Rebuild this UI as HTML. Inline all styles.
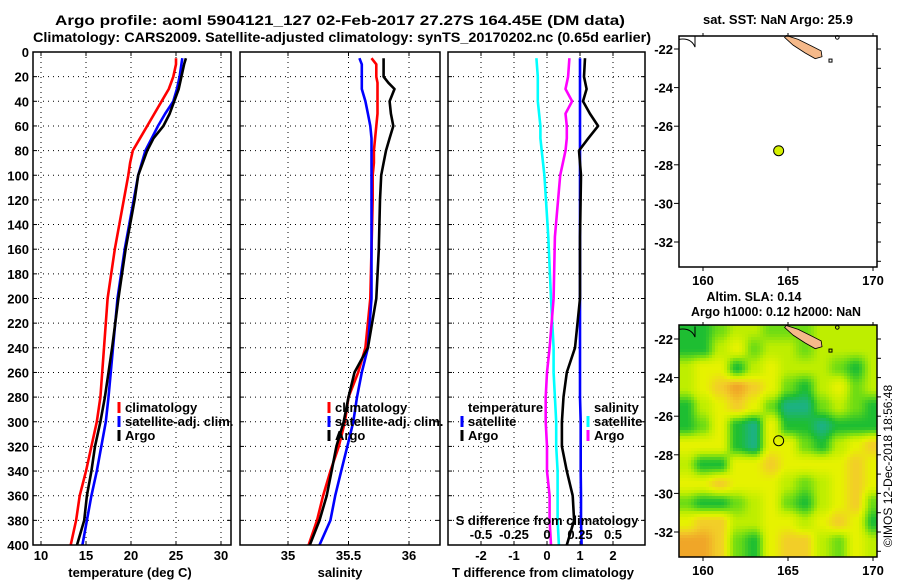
<!DOCTYPE html>
<html><head><meta charset="utf-8">
<style>
html,body{margin:0;padding:0;background:#fff;}
svg text{font-family:"Liberation Sans",sans-serif;font-weight:bold;font-size:13px;fill:#000;}
</style></head>
<body>
<svg id="c" width="900" height="580" viewBox="0 0 900 580" xmlns="http://www.w3.org/2000/svg">
<defs>
<clipPath id="clipMap2"><rect x="679" y="325" width="198" height="232"/></clipPath>
</defs>
<text x="340" y="25" text-anchor="middle" textLength="570" lengthAdjust="spacingAndGlyphs" style="font-size:14px">Argo profile: aoml 5904121_127 02-Feb-2017 27.27S 164.45E (DM data)</text>
<text x="342" y="42" text-anchor="middle" textLength="618" lengthAdjust="spacingAndGlyphs" style="font-size:14px">Climatology: CARS2009. Satellite-adjusted climatology: synTS_20170202.nc (0.65d earlier)</text>
<text x="778" y="24" text-anchor="middle" textLength="150" lengthAdjust="spacingAndGlyphs">sat. SST: NaN Argo: 25.9</text>
<text x="754" y="301" text-anchor="middle" textLength="95" lengthAdjust="spacingAndGlyphs">Altim. SLA: 0.14</text>
<text x="776" y="316" text-anchor="middle" textLength="170" lengthAdjust="spacingAndGlyphs">Argo h1000: 0.12 h2000: NaN</text>
<text transform="translate(892,466) rotate(-90)" text-anchor="middle" style="font-weight:normal;font-size:12px">©IMOS 12-Dec-2018 18:56:48</text>
<g id="g"></g>
</svg>
<script>
// ---- data: depth profiles ----
const tempDepths = [5,10,20,30,40,50,60,70,80,90,100,120,160,200,240,280,300,320,340,360,380,400];
const tempClim   = [25.0,25.0,24.7,24.2,23.4,22.6,21.8,21.0,20.2,19.9,19.7,19.2,18.2,17.4,17.0,16.6,16.2,15.6,15.0,14.3,13.9,13.3];
const tempSat    = [25.7,25.6,25.4,25.1,24.7,23.8,23.0,22.3,21.6,21.2,20.8,20.3,19.3,18.5,18.0,17.5,17.2,16.7,16.2,15.6,15.1,14.6];
const tempArgo   = [26.1,25.9,25.6,25.3,24.8,24.3,23.6,22.5,21.8,21.3,20.8,20.4,19.4,18.6,17.9,17.1,16.6,16.0,15.6,15.1,14.8,14.0];
const salDepths  = [5,10,20,25,30,40,50,60,70,80,90,100,120,160,200,240,260,280,300,320,340,360,380,400];
const salClim    = [35.69,35.73,35.73,35.74,35.74,35.74,35.74,35.73,35.72,35.71,35.71,35.70,35.70,35.69,35.68,35.64,35.58,35.50,35.47,35.42,35.35,35.29,35.24,35.17];
const salSat     = [35.59,35.61,35.61,35.61,35.61,35.64,35.66,35.68,35.69,35.69,35.69,35.69,35.69,35.69,35.69,35.66,35.61,35.57,35.54,35.49,35.44,35.39,35.35,35.26];
const salArgo    = [35.79,35.79,35.79,35.83,35.88,35.84,35.85,35.87,35.84,35.81,35.79,35.77,35.76,35.75,35.73,35.66,35.55,35.50,35.46,35.40,35.36,35.32,35.26,35.18];
const diffDepths = [5,20,30,40,50,60,70,80,100,150,200,240,260,280,300,320,340,360,380,400];
const diffTSat   = [1.0,1.0,1.0,1.0,1.0,1.0,1.0,1.0,1.0,1.0,1.0,1.0,1.0,1.0,1.02,1.02,1.02,1.03,1.03,1.05];
const diffTArgo  = [1.15,1.12,1.2,1.09,1.3,1.55,1.25,0.97,1.03,1.0,1.0,0.85,0.6,0.5,0.45,0.45,0.6,0.78,0.82,0.6];
const diffSSat   = [-0.08,-0.07,-0.07,-0.07,-0.06,-0.05,-0.05,-0.04,-0.02,0.01,0.03,0.05,0.05,0.06,0.07,0.07,0.08,0.08,0.08,0.09];
const diffSArgo  = [0.17,0.16,0.14,0.19,0.14,0.15,0.15,0.14,0.1,0.06,0.05,0.02,0.0,-0.01,-0.01,0.0,0.0,0.02,0.02,0.03];
const depthTicks = [0,20,40,60,80,100,120,140,160,180,200,220,240,260,280,300,320,340,360,380,400];
const tempTicks  = [10,15,20,25,30];
const salTicks   = [35,35.5,36];
const salTickLabels = ["35","35.5","36"];
const tdTicks    = [-2,-1,0,1,2];
const sdTicks    = [-0.5,-0.25,0,0.25,0.5];
const sdTickLabels = ["-0.5","-0.25","0","0.25","0.5"];
const latTicks   = [-22,-24,-26,-28,-30,-32];
const lonTicks   = [160,165,170];
const argoLon = 164.45, argoLat = -27.27;
// SLA field levels (0 low ... 6 high), rows lat -21.5..-32.5, cols lon 159..170
const slaLats = [-21.5,-22.5,-23.5,-24.5,-25.5,-26.5,-27.5,-28.5,-29.5,-30.5,-31.5,-32.5];
const slaLons = [159,160,161,162,163,164,165,166,167,168,169,170];
const slaLevels = [
 [1,1,2,3,3,2,2,2,3,3,3,3],
 [1,1,3,4,2,3,3,2,3,3,3,3],
 [3,4,4,1,3,4,3,3,3,2,1,3],
 [3,4,5,6,5,4,2,1,3,4,2,3],
 [1,3,4,5,4,2,0,0,2,3,2,1],
 [1,2,4,1,0,4,1,1,0,1,1,1],
 [4,4,4,1,0,4,4,2,1,3,4,5],
 [3,1,1,4,4,5,4,4,4,4,5,4],
 [4,4,5,4,4,4,3,2,3,4,5,4],
 [2,1,1,2,3,4,2,1,3,4,5,2],
 [4,5,5,3,3,4,4,3,4,5,4,1],
 [6,6,5,2,1,4,5,5,3,2,4,3]
];
const slaColors = [[28,178,130],[30,190,50],[110,220,20],[190,238,0],[230,242,0],[242,206,40],[240,166,40]];

const NS="http://www.w3.org/2000/svg";
const G=document.getElementById('g');
function mk(tag,attrs,parent){const e=document.createElementNS(NS,tag);for(const k in attrs)e.setAttribute(k,attrs[k]);(parent||G).appendChild(e);return e;}
function txt(x,y,s,anchor,parent){const t=mk('text',{x:x,y:y,'text-anchor':anchor||'middle'},parent);t.textContent=s;return t;}

const TOP=52, BOT=545;
const yD = d => TOP + d*(BOT-TOP)/400;
const xT = t => 41 + (t-10)*9;
const xS = s => 288 + (s-35)*121;
const xTD = t => 547 + t*33;
const xSD = s => 547 + s*132;

function panel(x0,x1,name){
  const grp=mk('g',{});
  
  
  depthTicks.forEach(d=>{ if(d>0&&d<400){const l=mk('line',{x1:x0,x2:x1,y1:yD(d),y2:yD(d),stroke:'#000','stroke-width':1,'stroke-dasharray':'1,4'},grp);
    
    }
    mk('line',{x1:x0,x2:x0+4,y1:yD(d),y2:yD(d),stroke:'#000'},grp);
    mk('line',{x1:x1-4,x2:x1,y1:yD(d),y2:yD(d),stroke:'#000'},grp);
  });
  return grp;
}
function vgrid(grp,xs){xs.forEach(x=>{const l=mk('line',{x1:x,x2:x,y1:TOP,y2:BOT,stroke:'#000','stroke-width':1,'stroke-dasharray':'1,4'},grp);
  
  
  mk('line',{x1:x,x2:x,y1:BOT-4,y2:BOT,stroke:'#000'},grp);mk('line',{x1:x,x2:x,y1:TOP,y2:TOP+4,stroke:'#000'},grp);});}
function frame(grp,x0,x1){const r=mk('rect',{x:x0,y:TOP,width:x1-x0,height:BOT-TOP,fill:'none',stroke:'#000','stroke-width':1.5},grp);
  
  }
function line(grp,depths,vals,fx,color,name){
  const pts=depths.map((d,i)=>fx(vals[i]).toFixed(1)+','+yD(d).toFixed(1)).join(' ');
  const p=mk('polyline',{points:pts,fill:'none',stroke:color,'stroke-width':2.6,'stroke-linejoin':'round'},grp);
  
  
}
function legendEntry(grp,x,y,color,label){
  const g2=mk('g',{},grp);
  
  
  if(color) mk('line',{x1:x,x2:x,y1:y-10,y2:y+1,stroke:color,'stroke-width':3},g2);
  txt(x+6,y,label,'start',g2);
}

// Panel 1 temperature
const p1=panel(33,231,'temperature-panel');
vgrid(p1,tempTicks.map(xT));
line(p1,tempDepths,tempClim,xT,'#ff0000','climatology-temp-line');
line(p1,tempDepths,tempSat,xT,'#0000ff','satellite-temp-line');
line(p1,tempDepths,tempArgo,xT,'#000000','argo-temp-line');
frame(p1,33,231);
depthTicks.forEach(d=>{txt(29,yD(d)+5,String(d),'end',p1);});
tempTicks.forEach(t=>txt(xT(t),BOT+15,String(t),'middle',p1));
const xl1=txt(130,577,'temperature (deg C)','middle',p1);


legendEntry(p1,119,412,'#ff0000','climatology');
legendEntry(p1,119,426,'#0000ff','satellite-adj. clim.');
legendEntry(p1,119,440,'#000000','Argo');

// Panel 2 salinity
const p2=panel(240,440,'salinity-panel');
vgrid(p2,salTicks.map(xS));
line(p2,salDepths,salClim,xS,'#ff0000','climatology-salinity-line');
line(p2,salDepths,salSat,xS,'#0000ff','satellite-salinity-line');
line(p2,salDepths,salArgo,xS,'#000000','argo-salinity-line');
frame(p2,240,440);
salTicks.forEach((s,i)=>txt(xS(s),BOT+15,salTickLabels[i],'middle',p2));
const xl2=txt(340,577,'salinity','middle',p2);


legendEntry(p2,329,412,'#ff0000','climatology');
legendEntry(p2,329,426,'#0000ff','satellite-adj. clim.');
legendEntry(p2,329,440,'#000000','Argo');

// Panel 3 differences
const p3=panel(448,645,'difference-panel');
vgrid(p3,tdTicks.map(xTD));
line(p3,diffDepths,diffTSat,xTD,'#0000ff','satellite-temp-diff-line');
line(p3,diffDepths,diffSSat,xSD,'#00ffff','satellite-salinity-diff-line');
line(p3,diffDepths,diffSArgo,xSD,'#ff00ff','argo-salinity-diff-line');
line(p3,diffDepths,diffTArgo,xTD,'#000000','argo-temp-diff-line');
frame(p3,448,645);
tdTicks.forEach(t=>txt(xTD(t),BOT+15,String(t),'middle',p3));
sdTicks.forEach((s,i)=>txt(xSD(s),539,sdTickLabels[i],'middle',p3));
txt(547,525,'S difference from climatology','middle',p3);
const xl3=txt(543,577,'T difference from climatology','middle',p3);


legendEntry(p3,462,412,null,'temperature');
legendEntry(p3,462,426,'#0000ff','satellite');
legendEntry(p3,462,440,'#000000','Argo');
legendEntry(p3,588,412,null,'salinity');
legendEntry(p3,588,426,'#00ffff','satellite');
legendEntry(p3,588,440,'#ff00ff','Argo');

// Maps
const MX0=679, MX1=877;
const lonX = lon => 703 + (lon-160)*17;
const xLon = x => 160 + (x-703)/17;
function levelAt(lon,lat){
  let c=(lon-slaLons[0]); let r=(slaLats[0]-lat);
  c=Math.max(0,Math.min(slaLons.length-1.0001,c)); r=Math.max(0,Math.min(slaLats.length-1.0001,r));
  const c0=Math.floor(c), r0=Math.floor(r), fc=c-c0, fr=r-r0;
  const c1=Math.min(c0+1,slaLons.length-1), r1=Math.min(r0+1,slaLats.length-1);
  const s=t=>t*t*(3-2*t);
  const a=s(fc), b=s(fr);
  return (slaLevels[r0][c0]*(1-a)+slaLevels[r0][c1]*a)*(1-b)+(slaLevels[r1][c0]*(1-a)+slaLevels[r1][c1]*a)*b;
}
function colorFor(v){
  const i=Math.max(0,Math.min(slaColors.length-2,Math.floor(v))); const f=Math.max(0,Math.min(1,v-i));
  const a=slaColors[i], b=slaColors[i+1];
  return 'rgb('+a.map((x,k)=>Math.round(x+(b[k]-x)*f)).join(',')+')';
}
function drawMap(y0,y1,latY,yLat,name,withField){
  const grp=mk('g',{});
  
  
  if(withField){
    const fg=mk('g',{'clip-path':'url(#clipMap2)'},grp);
    
    
    const step=3;
    for(let y=y0;y<y1;y+=step){for(let x=MX0;x<MX1;x+=step){
      const v=levelAt(xLon(x+step/2),yLat(y+step/2));
      const cell=mk('rect',{x:x,y:y,width:step+0.3,height:step+0.3,fill:colorFor(v)},fg);
      
      
    }}
  }
  const land=[[164.9,-21.3],[165.6,-21.5],[166.4,-21.85],[166.95,-22.1],[167.0,-22.4],[166.6,-22.5],[166.0,-22.2],[165.3,-21.8],[164.8,-21.4]];
  const lp=mk('polygon',{points:land.map(p=>lonX(p[0])+','+latY(p[1])).join(' '),fill:'#f5b98a',stroke:'#000','stroke-width':0.8},grp);
  
  
  mk('path',{d:`M${MX0} ${latY(-21.5)} Q${MX0+12} ${latY(-21.4)} ${MX0+16} ${latY(-21.9)} L${MX0+16} ${latY(-21.35)}`,fill:'none',stroke:'#000','stroke-width':1},grp);
  mk('rect',{x:lonX(167.5)-1.5,y:latY(-22.6)-1.5,width:3,height:3,fill:'none',stroke:'#000'},grp);
  mk('circle',{cx:lonX(167.9),cy:latY(-21.4),r:1.8,fill:'none',stroke:'#000'},grp);
  const fr=mk('rect',{x:MX0,y:y0,width:MX1-MX0,height:y1-y0,fill:'none',stroke:'#000','stroke-width':1.5},grp);
  
  
  latTicks.forEach(l=>{const y=latY(l);mk('line',{x1:MX0-5,x2:MX0,y1:y,y2:y,stroke:'#000'},grp);mk('line',{x1:MX1,x2:MX1+4,y1:y,y2:y,stroke:'#000'},grp);txt(MX0-6,y+5,String(l),'end',grp);});
  [-23,-25,-27,-29,-31,-33].forEach(l=>{const y=latY(l);mk('line',{x1:MX1,x2:MX1+4,y1:y,y2:y,stroke:'#000'},grp);});
  lonTicks.forEach(l=>{const x=lonX(l);mk('line',{x1:x,x2:x,y1:y1,y2:y1+4,stroke:'#000'},grp);mk('line',{x1:x,x2:x,y1:y0-3,y2:y0,stroke:'#000'},grp);txt(x,y1+18,String(l),'middle',grp);});
  return grp;
}
const lat1 = lat => 49 + (-22-lat)*19.3;
const lat2 = lat => 339 + (-22-lat)*19.3;
const yLat2 = y => -22 - (y-339)/19.3;
const m1=drawMap(36,267,lat1,null,'sst-map',false);
const a1=mk('circle',{cx:lonX(argoLon),cy:lat1(argoLat),r:5,fill:'#d4f000',stroke:'#000','stroke-width':1},m1);


const m2=drawMap(325,557,lat2,yLat2,'sla-map',true);
const a2=mk('circle',{cx:lonX(argoLon),cy:lat2(argoLat),r:5,fill:'none',stroke:'#000','stroke-width':1},m2);


</script>
</body></html>
